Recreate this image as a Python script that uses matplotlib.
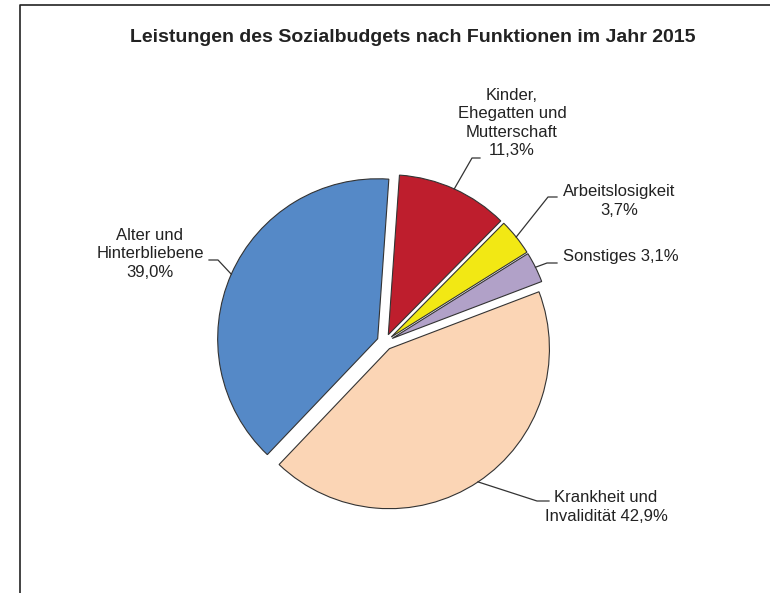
import numpy as np
import matplotlib.pyplot as plt

# data
labels = ['Kinder,\nEhegatten und\nMutterschaft', 'Arbeitslosigkeit', 'Sonstiges',
          'Krankheit und\nInvalidität', 'Alter und\nHinterbliebene']
shares = [11.3, 3.7, 3.1, 42.9, 39.0]
label_sep = ['\n', '\n', ' ', ' ', '\n']
colors = ['#BE1E2D', '#F2E814', '#B1A1C8', '#FBD5B5', '#5589C7']

W, H = 770, 593
plt.rcParams['font.family'] = ['Liberation Sans', 'DejaVu Sans']

fig = plt.figure(figsize=(W / 100, H / 100), dpi=100)
ax = fig.add_axes([0, 0, 1, 1])

# pie in pixel units (y measured from bottom), explode is in the same units
cx, cy, r = 385, H - 342, 160
wedges, _ = ax.pie(shares, colors=colors, startangle=86, counterclock=False,
                   explode=[8] * len(shares), radius=r, center=(cx, cy),
                   wedgeprops=dict(edgecolor='#333333', linewidth=0.8))
ax.set_aspect('auto')
ax.set_xlim(0, W)
ax.set_ylim(0, H)
ax.axis('off')

# label layout: text centre, elbow of leader line, end of leader line (pixels from top)
text_pos = [(512, 123), (619, 201), (621, 257), (606, 507), (150, 254)]
elbows = [((472, 158), (480, 158)),
          ((548, 197), (557, 197)),
          ((547, 263), (557, 263)),
          ((537, 501), (549, 501)),
          ((218, 260), (209, 260))]

for i, w in enumerate(wedges):
    mid = np.deg2rad((w.theta1 + w.theta2) / 2)
    ax_x = w.center[0] + w.r * np.cos(mid)
    ax_y = w.center[1] + w.r * np.sin(mid)
    (ex, ey), (hx, hy) = elbows[i]
    ax.plot([ax_x, ex, hx], [ax_y, H - ey, H - hy], color='#333333', lw=0.9)
    pct = ('%.1f%%' % shares[i]).replace('.', ',')
    tx, ty = text_pos[i]
    ax.text(tx, H - ty, labels[i] + label_sep[i] + pct, ha='center', va='center',
            fontsize=12, color='#222222', linespacing=1.3)

ax.text(413, H - 38, 'Leistungen des Sozialbudgets nach Funktionen im Jahr 2015',
        ha='center', va='center', fontsize=14, fontweight='bold', color='#222222')

# frame (left and top edge)
ax.plot([20, 20, W], [0, H - 5, H - 5], color='#222222', lw=1.2)

fig.savefig('out.png', dpi=100)
